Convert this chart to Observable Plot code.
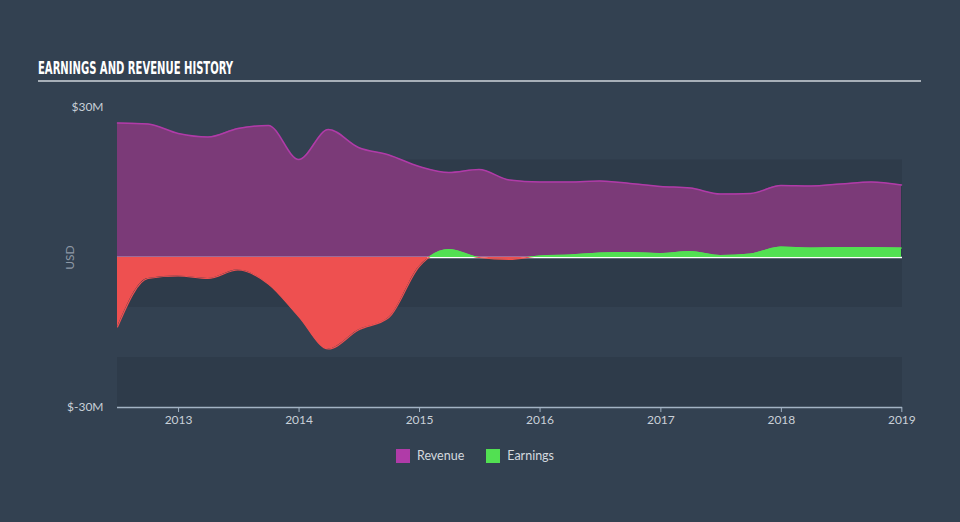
<!DOCTYPE html>
<html>
<head>
<meta charset="utf-8">
<script src="https://cdn.jsdelivr.net/npm/d3@7"></script>
<script src="https://cdn.jsdelivr.net/npm/@observablehq/plot@0.6"></script>
<style>
  html, body { margin: 0; padding: 0; }
  body { width: 960px; height: 522px; background: #334151; overflow: hidden; font-family: Lato, "Open Sans", sans-serif; }
  #wrap { position: relative; width: 960px; height: 522px; }
  #title { position: absolute; left: 38px; top: 57px; font-family: "DejaVu Sans Condensed", "DejaVu Sans", sans-serif; font-weight: bold; font-size: 18px; color: #ffffff; transform: scaleX(0.62); transform-origin: 0 0; white-space: nowrap; }
  #rule { position: absolute; left: 38px; top: 80px; width: 883px; height: 2px; background: #a7afb8; }
  #chart { position: absolute; left: 0; top: 90px; }
  #legend { position: absolute; top: 448px; left: 0; width: 960px; display: flex; justify-content: center; gap: 22px; font-size: 12.5px; color: #d4d9df; }
  .item { display: flex; align-items: center; gap: 7px; }
  .sw { width: 14px; height: 14px; display: inline-block; }
</style>
</head>
<body>
<div id="wrap">
  <div id="title">EARNINGS AND REVENUE HISTORY</div>
  <div id="rule"></div>
  <div id="chart"></div>
  <div id="legend" style="padding-right:10px;box-sizing:border-box;">
    <span class="item"><span class="sw" style="background:#b03ba8"></span>Revenue</span>
    <span class="item"><span class="sw" style="background:#52e052"></span>Earnings</span>
  </div>
</div>
<script>
const dates = ["2012-06-30","2012-09-30","2012-12-31","2013-03-31","2013-06-30","2013-09-30","2013-12-31",
  "2014-03-31","2014-06-30","2014-09-30","2014-12-31","2015-03-31","2015-06-30","2015-09-30","2015-12-31",
  "2016-03-31","2016-06-30","2016-09-30","2016-12-31","2017-03-31","2017-06-30","2017-09-30","2017-12-31",
  "2018-03-31","2018-06-30","2018-09-30","2018-12-31"];
const revenue = [26.9, 26.7, 24.8, 24.1, 25.8, 26.4, 19.6, 25.6, 22.0, 20.5, 18.2, 17.0, 17.6, 15.5, 15.1,
  15.1, 15.3, 14.8, 14.2, 13.9, 12.7, 12.8, 14.4, 14.3, 14.7, 15.1, 14.5];
const earnings = [-13.9, -4.2, -3.7, -4.2, -2.5, -5.3, -11.8, -18.3, -14.5, -12.0, -1.8, 1.6, 0.0, -0.4, 0.3,
  0.5, 0.9, 1.0, 0.8, 1.2, 0.4, 0.7, 2.1, 1.9, 2.0, 2.0, 1.9];
const yTicks = [30, -30];
const xTickYears = [2013, 2014, 2015, 2016, 2017, 2018, 2019];
const bands = [[19.5, -10], [-20, -30]];

const data = dates.map((d, i) => ({date: new Date(d), revenue: revenue[i], earnings: earnings[i]}));
const bandData = bands.map(([a, b]) => ({y1: a, y2: b}));

const chart = Plot.plot({
  width: 960,
  height: 350,
  marginLeft: 117,
  marginRight: 58,
  marginTop: 17,
  marginBottom: 33,
  style: {background: "transparent", color: "#c9d0d8", fontFamily: "Lato, 'Open Sans', sans-serif", fontSize: "12px"},
  x: {type: "utc", domain: [new Date("2012-06-30"), new Date("2019-01-03")]},
  y: {domain: [-30, 30]},
  marks: [
    Plot.rectY(bandData, {x1: new Date("2012-06-30"), x2: new Date("2019-01-03"), y1: "y1", y2: "y2", fill: "#2e3b4a"}),
    Plot.areaY(data, {x: "date", y: "revenue", fill: "#7b3a78", curve: "monotone-x"}),
    Plot.lineY(data, {x: "date", y: "revenue", stroke: "#b03ba8", strokeWidth: 1.5, curve: "monotone-x"}),
    Plot.ruleY([0], {stroke: "#ffffff", strokeWidth: 1.5}),
    Plot.areaY(data, {x: "date", y: "earnings", fill: "url(#earnGrad)", curve: "monotone-x"}),
    Plot.lineY(data, {x: "date", y: "earnings", stroke: "url(#earnGrad)", strokeWidth: 1.2, curve: "monotone-x"}),
    Plot.ruleY([-30], {stroke: "#a3b3c4", strokeWidth: 1.5}),
    Plot.axisX({ticks: xTickYears.map(y => new Date(Date.UTC(y, 0, 1))), tickFormat: d3.utcFormat("%Y"), tickSize: 5, tickPadding: 3, stroke: "#a3b3c4", label: null, fill: "#c9d0d8"}),
    Plot.axisY({ticks: yTicks, tickSize: 0, tickPadding: 14, tickFormat: d => "$" + d + "M", label: "USD", labelAnchor: "center", labelArrow: "none", labelOffset: 52, fill: "#c9d0d8"})
  ]
});

// gradient splitting earnings colour at zero, positioned through the y scale
const y0 = chart.scale("y").apply(0);
const yTop = chart.scale("y").apply(30);
const yBot = chart.scale("y").apply(-30);
const off = (y0 - yTop) / (yBot - yTop);
const ns = "http://www.w3.org/2000/svg";
const defs = document.createElementNS(ns, "defs");
const grad = document.createElementNS(ns, "linearGradient");
grad.setAttribute("id", "earnGrad");
grad.setAttribute("gradientUnits", "userSpaceOnUse");
grad.setAttribute("x1", 0); grad.setAttribute("x2", 0);
grad.setAttribute("y1", yTop); grad.setAttribute("y2", yBot);
[[0, "#52e052"], [off, "#52e052"], [off, "#ee5050"], [1, "#ee5050"]].forEach(([o, c]) => {
  const s = document.createElementNS(ns, "stop");
  s.setAttribute("offset", o); s.setAttribute("stop-color", c);
  grad.appendChild(s);
});
defs.appendChild(grad);
chart.insertBefore(defs, chart.firstChild);

chart.querySelectorAll("text").forEach(t => { if (t.textContent === "USD") t.setAttribute("fill", "#8e99a6"); });

document.getElementById("chart").appendChild(chart);
</script>
</body>
</html>
